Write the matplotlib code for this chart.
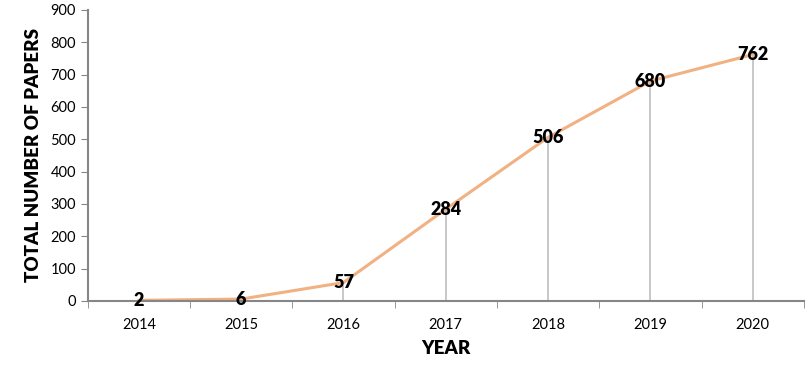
import matplotlib
matplotlib.use("Agg")
import matplotlib.pyplot as plt
import numpy as np

years = ["2014", "2015", "2016", "2017", "2018", "2019", "2020"]
papers = [2, 6, 57, 284, 506, 680, 762]
yticks = [0, 100, 200, 300, 400, 500, 600, 700, 800, 900]

plt.rcParams['font.family'] = ['Lato', 'DejaVu Sans']

fig = plt.figure(figsize=(8.12, 3.77), dpi=100)
ax = fig.add_axes([0.108, 0.2016, 0.882, 0.772])

x = np.arange(len(years))
ax.vlines(x, 0, papers, colors="#BFBFBF", linewidth=1.2, zorder=1)
ax.plot(x, papers, color="#F1B182", linewidth=2.2, zorder=2)
for xi, v in zip(x, papers):
    ax.text(xi, v, str(v), ha="center", va="center", fontsize=13,
            fontweight="heavy", color="black", zorder=3)

ax.set_xlim(-0.5, len(years) - 0.5)
ax.set_ylim(0, 900)
ax.set_yticks(yticks)
ax.set_yticklabels([str(t) for t in yticks], fontsize=10.5)
ax.set_xticks(x)
ax.set_xticklabels(years, fontsize=10.5)
ax.tick_params(axis="x", which="major", length=0, pad=12)
ax.set_xticks(np.arange(-0.5, len(years), 1), minor=True)
ax.tick_params(axis="x", which="minor", length=5, color="#868686", direction="out")
ax.tick_params(axis="y", length=5, color="#868686", direction="out")

for s in ["top", "right"]:
    ax.spines[s].set_visible(False)
for s in ["left", "bottom"]:
    ax.spines[s].set_color("#868686")
    ax.spines[s].set_linewidth(1.5)

ax.set_xlabel("YEAR", fontsize=13.5, fontweight="heavy", labelpad=6)
ax.set_ylabel("TOTAL NUMBER OF PAPERS", fontsize=13.5, fontweight="heavy", labelpad=6)

fig.savefig("out.png", dpi=100)
